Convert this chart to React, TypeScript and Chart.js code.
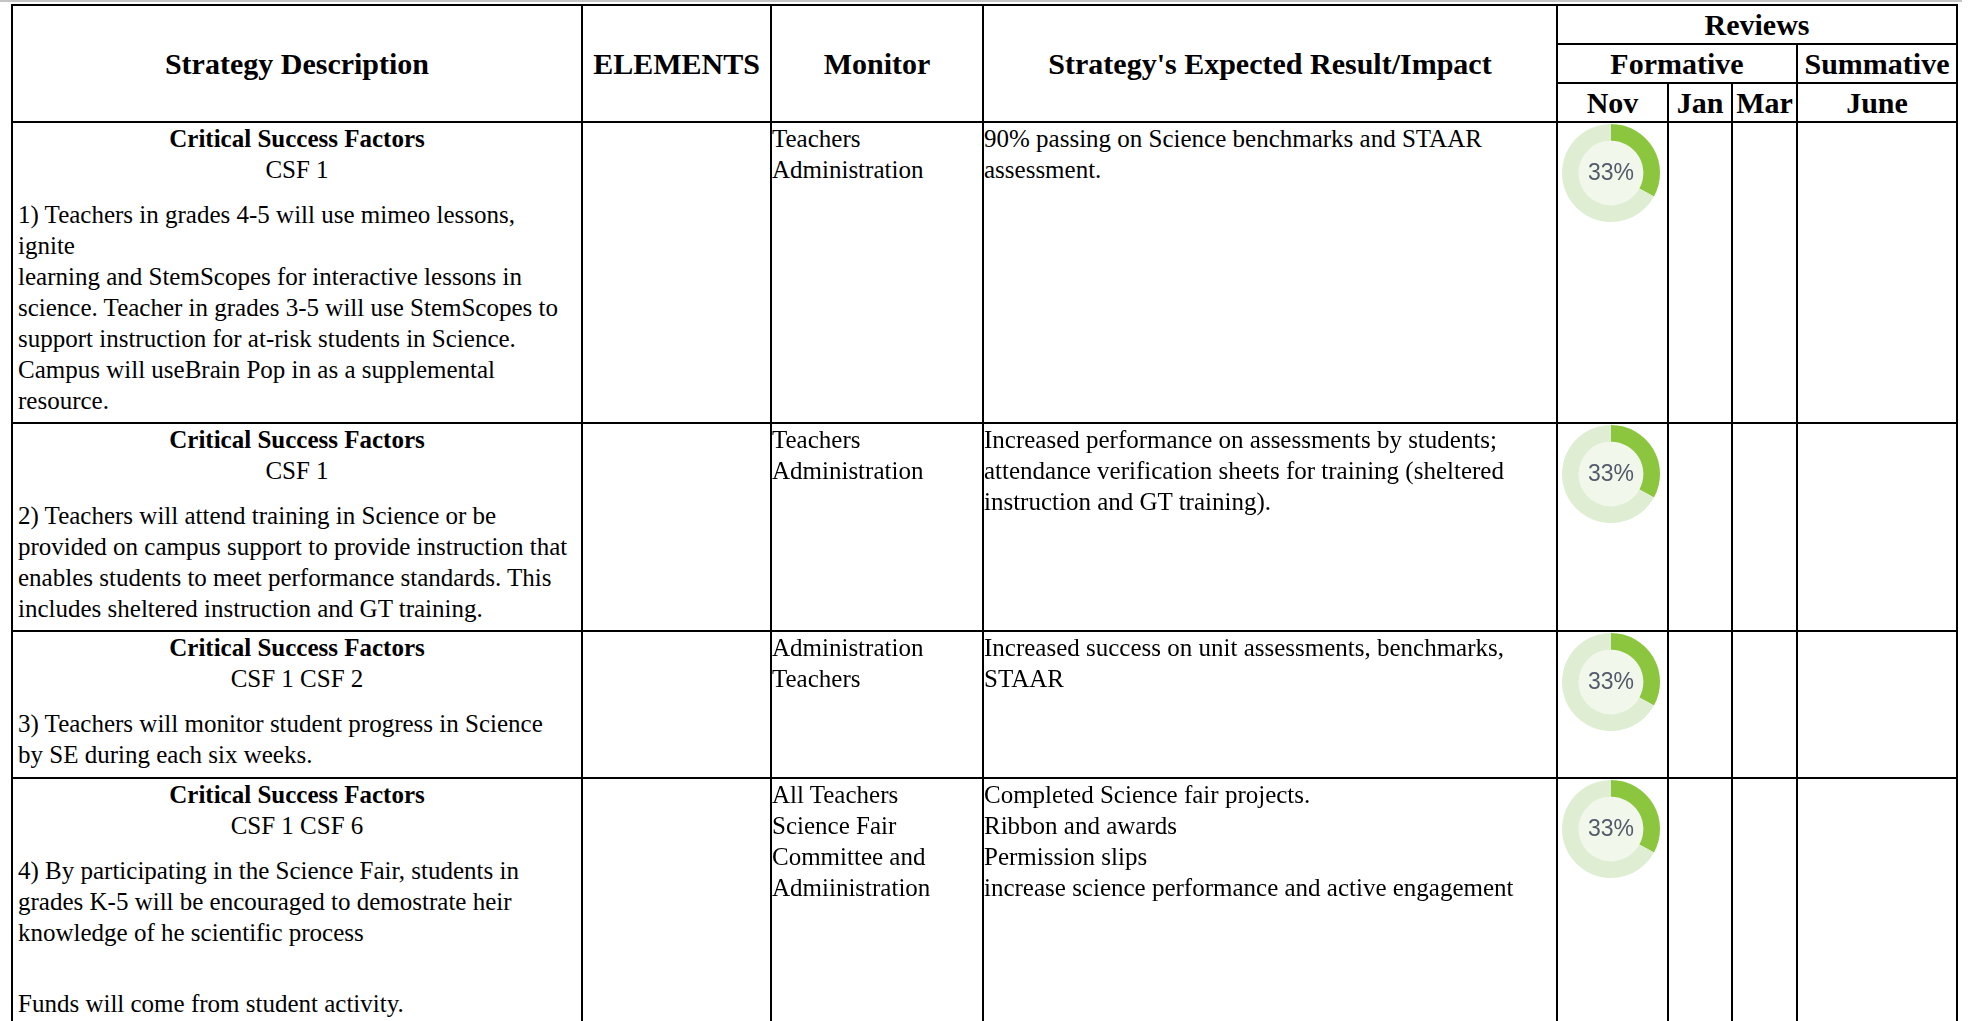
import React, { useEffect, useRef } from "react";
import { Chart, registerables } from "chart.js";

Chart.register(...registerables);

// ---------- data ----------
const columnHeaders = ["Strategy Description", "ELEMENTS", "Monitor", "Strategy's Expected Result/Impact"];
const reviewTitle = "Reviews";
const reviewGroups = ["Formative", "Summative"];
const reviewMonths = ["Nov", "Jan", "Mar", "June"];
const csfTitle = "Critical Success Factors";
const csfTags = ["CSF 1", "CSF 1", "CSF 1 CSF 2", "CSF 1 CSF 6"];
const strategyLines: string[][] = [
  [
    "1) Teachers in grades 4-5 will use mimeo lessons,",
    "ignite",
    "learning and StemScopes for interactive lessons in",
    "science. Teacher in grades 3-5 will use StemScopes to",
    "support instruction for at-risk students in Science.",
    "Campus will useBrain Pop in as a supplemental",
    "resource.",
  ],
  [
    "2) Teachers will attend training in Science or be",
    "provided on campus support to provide instruction that",
    "enables students to meet performance standards. This",
    "includes sheltered instruction and GT training.",
  ],
  ["3) Teachers will monitor student progress in Science", "by SE during each six weeks."],
  [
    "4) By participating in the Science Fair, students in",
    "grades K-5 will be encouraged to demostrate heir",
    "knowledge of he scientific process",
    "",
    "Funds will come from student activity.",
  ],
];
const monitorLines: string[][] = [
  ["Teachers", "Administration"],
  ["Teachers", "Administration"],
  ["Administration", "Teachers"],
  ["All Teachers", "Science Fair", "Committee and", "Admiinistration"],
];
const resultLines: string[][] = [
  ["90% passing on Science benchmarks and STAAR", "assessment."],
  [
    "Increased performance on assessments by students;",
    "attendance verification sheets for training (sheltered",
    "instruction and GT training).",
  ],
  ["Increased success on unit assessments, benchmarks,", "STAAR"],
  [
    "Completed Science fair projects.",
    "Ribbon and awards",
    "Permission slips",
    "increase science performance and active engagement",
  ],
];
const novProgress = [33, 33, 33, 33];

// ---------- styles ----------
const SERIF = '"Liberation Serif", "Times New Roman", serif';
const GREEN = "#8cc63f";
const TRACK = "#dfeed3";
const INNER = "#f1f8eb";
const LABEL = "#525a6a";

const colWidths = [568, 187, 210, 572, 109, 62, 63, 158];
const rowHeights = [37, 37, 37, 299, 206, 145, 320];

const centerPlugin = {
  id: "centerFill",
  beforeDatasetsDraw(chart: any) {
    const arc = chart.getDatasetMeta(0).data[0];
    if (!arc) return;
    const { x, y, innerRadius } = arc.getProps(["x", "y", "innerRadius"], true);
    const ctx = chart.ctx;
    ctx.save();
    ctx.beginPath();
    ctx.arc(x, y, innerRadius, 0, Math.PI * 2);
    ctx.fillStyle = INNER;
    ctx.fill();
    ctx.restore();
  },
  afterDatasetsDraw(chart: any) {
    const arc = chart.getDatasetMeta(0).data[0];
    if (!arc) return;
    const { x, y } = arc.getProps(["x", "y"], true);
    const v = chart.data.datasets[0].data[0];
    const ctx = chart.ctx;
    ctx.save();
    ctx.font = '23px "Liberation Sans", Arial, sans-serif';
    ctx.fillStyle = LABEL;
    ctx.textAlign = "center";
    ctx.textBaseline = "middle";
    ctx.fillText(`${v}%`, x, y + 1);
    ctx.restore();
  },
};

function Donut({ value }: { value: number }) {
  const ref = useRef<HTMLCanvasElement>(null);
  useEffect(() => {
    if (!ref.current) return;
    const chart = new Chart(ref.current, {
      type: "doughnut",
      data: {
        labels: ["Complete", "Remaining"],
        datasets: [
          {
            data: [value, 100 - value],
            backgroundColor: [GREEN, TRACK],
            borderWidth: 0,
          },
        ],
      },
      options: {
        responsive: false,
        animation: false,
        cutout: "66%",
        events: [],
        layout: { padding: 0 },
        plugins: { legend: { display: false }, tooltip: { enabled: false } },
      },
      plugins: [centerPlugin],
    } as any);
    return () => chart.destroy();
  }, [value]);
  return <canvas ref={ref} width={98} height={98} style={{ display: "block", width: 98, height: 98 }} />;
}

const headStyle: React.CSSProperties = {
  background: "#fff",
  fontFamily: SERIF,
  fontWeight: "bold",
  fontSize: 30,
  display: "flex",
  alignItems: "center",
  justifyContent: "center",
  whiteSpace: "nowrap",
  color: "#000",
};

const bodyCell: React.CSSProperties = {
  background: "#fff",
  fontFamily: SERIF,
  fontSize: 25,
  lineHeight: "31px",
  color: "#000",
  whiteSpace: "nowrap",
  overflow: "hidden",
};

function Lines({ lines }: { lines: string[] }) {
  return (
    <>
      {lines.map((l, i) =>
        l === "" ? <div key={i} style={{ height: 40 }} /> : <div key={i}>{l}</div>
      )}
    </>
  );
}

export default function App() {
  const grid: React.CSSProperties = {
    position: "absolute",
    left: 11,
    top: 4,
    display: "grid",
    gridTemplateColumns: colWidths.map((w) => `${w}px`).join(" "),
    gridTemplateRows: rowHeights.map((h) => `${h}px`).join(" "),
    gap: 2,
    padding: 2,
    background: "#000",
  };
  return (
    <div style={{ position: "fixed", left: 0, top: 0, width: 1969, height: 1021, overflow: "hidden", background: "#fff" }}>
      <div style={{ position: "absolute", left: 0, top: 0, width: 1962, height: 2, background: "#c4c4c4" }} />
      <div style={grid}>
        {columnHeaders.map((h, i) => (
          <div key={h} style={{ ...headStyle, gridColumn: `${i + 1}`, gridRow: "1 / 4" }}>
            {h}
          </div>
        ))}
        <div style={{ ...headStyle, gridColumn: "5 / 9", gridRow: "1" }}>{reviewTitle}</div>
        <div style={{ ...headStyle, gridColumn: "5 / 8", gridRow: "2" }}>{reviewGroups[0]}</div>
        <div style={{ ...headStyle, gridColumn: "8", gridRow: "2" }}>{reviewGroups[1]}</div>
        {reviewMonths.map((m, i) => (
          <div key={m} style={{ ...headStyle, gridColumn: `${i + 5}`, gridRow: "3" }}>
            {m}
          </div>
        ))}
        {csfTags.map((tag, r) => {
          const row = `${r + 4}`;
          return (
            <React.Fragment key={r}>
              <div style={{ ...bodyCell, gridColumn: "1", gridRow: row, paddingLeft: 5 }}>
                <div style={{ textAlign: "center", fontWeight: "bold", paddingRight: 5 }}>{csfTitle}</div>
                <div style={{ textAlign: "center", paddingRight: 5 }}>{tag}</div>
                <div style={{ marginTop: 14 }}>
                  <Lines lines={strategyLines[r]} />
                </div>
              </div>
              <div style={{ ...bodyCell, gridColumn: "2", gridRow: row }} />
              <div style={{ ...bodyCell, gridColumn: "3", gridRow: row }}>
                <Lines lines={monitorLines[r]} />
              </div>
              <div style={{ ...bodyCell, gridColumn: "4", gridRow: row }}>
                <Lines lines={resultLines[r]} />
              </div>
              <div style={{ ...bodyCell, gridColumn: "5", gridRow: row }}>
                <div style={{ marginLeft: 4, marginTop: 1 }}>
                  <Donut value={novProgress[r]} />
                </div>
              </div>
              <div style={{ ...bodyCell, gridColumn: "6", gridRow: row }} />
              <div style={{ ...bodyCell, gridColumn: "7", gridRow: row }} />
              <div style={{ ...bodyCell, gridColumn: "8", gridRow: row }} />
            </React.Fragment>
          );
        })}
      </div>
    </div>
  );
}
